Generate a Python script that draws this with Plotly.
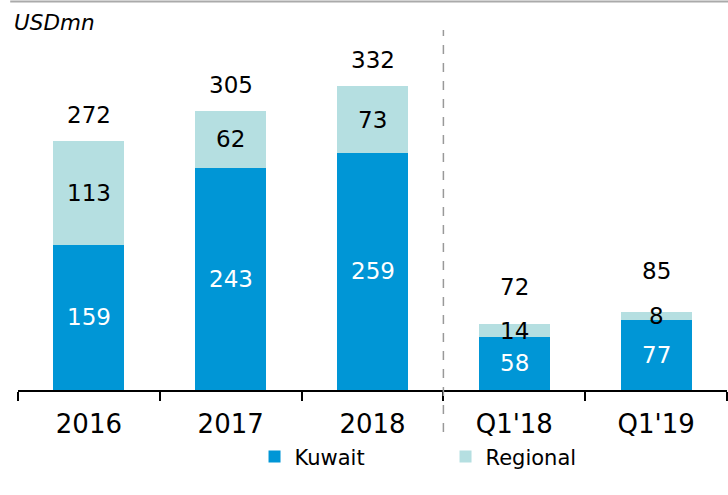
import plotly.graph_objects as go

categories = ["2016", "2017", "2018", "Q1'18", "Q1'19"]
kuwait = [159, 243, 259, 58, 77]
regional = [113, 62, 73, 14, 8]
totals = [272, 305, 332, 72, 85]
total_shift = [11, 11, 11, 22, 26]

BLUE = "#0096D6"
LIGHT = "#B5DFE1"
FONT = "DejaVu Sans"

fig = go.Figure()
fig.add_trace(go.Bar(x=categories, y=kuwait, name="Kuwait", marker_color=BLUE, marker_line_width=0))
fig.add_trace(go.Bar(x=categories, y=regional, name="Regional", marker_color=LIGHT, marker_line_width=0))

ann = []
for i, (k, r, t, s) in enumerate(zip(kuwait, regional, totals, total_shift)):
    ann.append(dict(x=i, y=k / 2, text=str(k), showarrow=False, font=dict(size=23, color="white", family=FONT)))
    ann.append(dict(x=i, y=k + r / 2, text=str(r), showarrow=False, font=dict(size=23, color="black", family=FONT)))
    ann.append(dict(x=i, y=t, text=str(t), showarrow=False, yanchor="bottom", yshift=s,
                    font=dict(size=23, color="black", family=FONT)))
ann.append(dict(xref="paper", yref="paper", x=-0.0085, y=1.022, text="<i>USDmn</i>", showarrow=False,
                xanchor="left", yanchor="middle", font=dict(size=21.5, color="black", family=FONT)))

fig.update_layout(
    barmode="stack",
    bargap=0.5,
    width=728, height=495,
    margin=dict(l=18, r=1, t=30, b=105, autoexpand=False),
    plot_bgcolor="white", paper_bgcolor="white",
    font=dict(family=FONT, color="black"),
    annotations=ann,
    showlegend=True,
    legend=dict(orientation="h", x=0.603, xanchor="center", y=-0.186, yanchor="middle",
                font=dict(size=21, family=FONT, color="black"), traceorder="normal",
                entrywidth=146),
    xaxis=dict(type="category", range=[-0.5, 4.5], showline=True, linecolor="black", linewidth=1.5,
               ticks="outside", tickson="boundaries", ticklen=9, tickcolor="black", tickwidth=1.5,
               tickfont=dict(size=26, family=FONT, color="black"), showgrid=False, tickangle=0,
               ticklabelstandoff=10),
    yaxis=dict(range=[0, 393.4], visible=False, showgrid=False),
    shapes=[
        dict(type="line", xref="x", yref="paper", x0=2.5, x1=2.5, y0=-0.117, y1=1.0,
             line=dict(color="#999999", width=1.5, dash="dash")),
        dict(type="line", xref="paper", yref="paper", x0=-0.011, x1=1.002, y0=1.079, y1=1.079,
             line=dict(color="#AAAAAA", width=2)),
    ],
)

fig.write_html("out.html", config={"displayModeBar": False},
               post_script="document.body.style.margin='0';")
